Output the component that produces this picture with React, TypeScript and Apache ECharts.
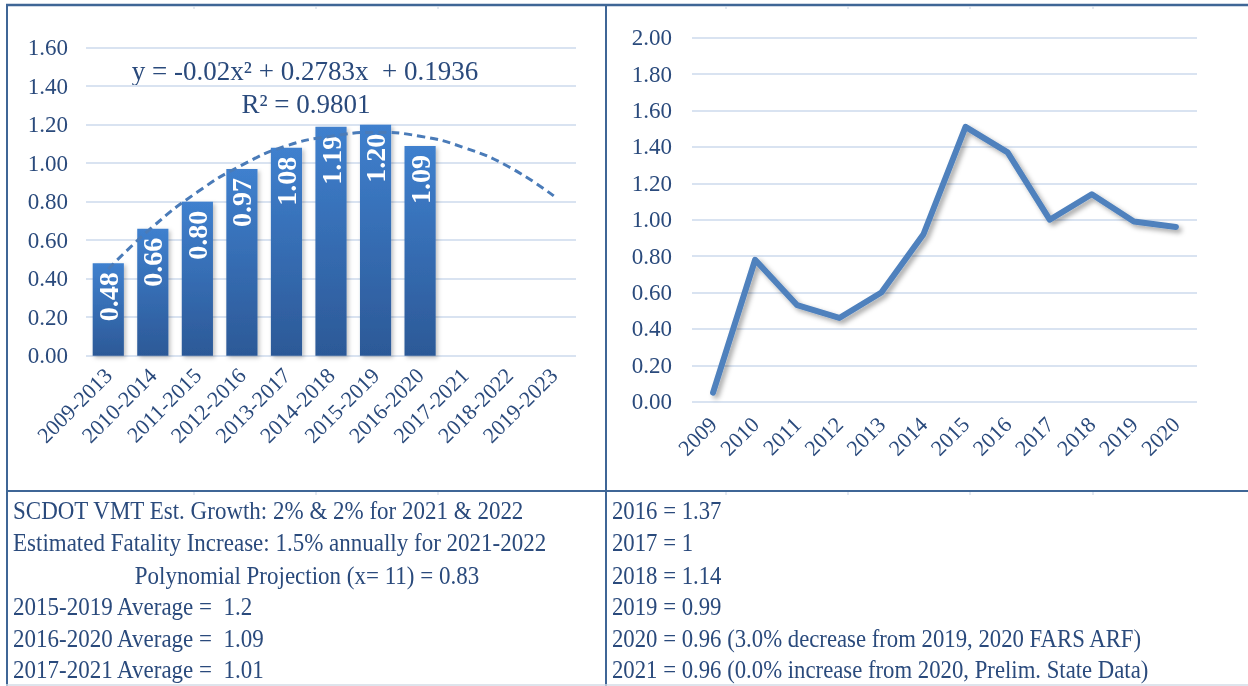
import React, { useEffect, useRef } from "react";
import * as echarts from "echarts";

const periodCategories = [
  "2009-2013", "2010-2014", "2011-2015", "2012-2016", "2013-2017", "2014-2018",
  "2015-2019", "2016-2020", "2017-2021", "2018-2022", "2019-2023",
];
const periodValues: (number | null)[] = [0.48, 0.66, 0.8, 0.97, 1.08, 1.19, 1.2, 1.09, null, null, null];
// dashed polynomial trendline
const trendValues = [0.45, 0.67, 0.85, 0.99, 1.09, 1.14, 1.16, 1.14, 1.08, 0.98, 0.83];

const yearCategories = ["2009", "2010", "2011", "2012", "2013", "2014", "2015", "2016", "2017", "2018", "2019", "2020"];
const yearValues = [0.05, 0.78, 0.53, 0.46, 0.6, 0.92, 1.51, 1.37, 1.0, 1.14, 0.99, 0.96];

const equationText = "y = -0.02x² + 0.2783x  + 0.1936";
const rSquaredText = "R² = 0.9801";

const leftNotes = [
  "SCDOT VMT Est. Growth: 2% & 2% for 2021 & 2022",
  "Estimated Fatality Increase: 1.5% annually for 2021-2022",
  "Polynomial Projection (x= 11) = 0.83",
  "2015-2019 Average =  1.2",
  "2016-2020 Average =  1.09",
  "2017-2021 Average =  1.01",
];
const rightNotes = [
  "2016 = 1.37",
  "2017 = 1",
  "2018 = 1.14",
  "2019 = 0.99",
  "2020 = 0.96 (3.0% decrease from 2019, 2020 FARS ARF)",
  "2021 = 0.96 (0.0% increase from 2020, Prelim. State Data)",
];

const FONT = "'Liberation Serif', 'Times New Roman', serif";
const TEXT = "#2a4a7c";
const FRAME = "#3f6696";
const GRID = "#d9e3f1";

export default function App() {
  const ref = useRef<HTMLDivElement>(null);
  useEffect(() => {
    if (!ref.current) return;
    const chart = echarts.init(ref.current, null, { renderer: "svg" });
    const rowY = [511, 543, 576, 607, 639, 670];
    const graphics: any[] = [
      { type: "rect", shape: { x: 0, y: 0, width: 1248, height: 686 }, style: { fill: "#fff" }, z: -10, silent: true },
      { type: "line", shape: { x1: 6, y1: 5, x2: 1248, y2: 5 }, style: { stroke: FRAME, lineWidth: 2.5 } },
      { type: "line", shape: { x1: 7, y1: 5, x2: 7, y2: 686 }, style: { stroke: FRAME, lineWidth: 2 } },
      { type: "line", shape: { x1: 606, y1: 5, x2: 606, y2: 686 }, style: { stroke: FRAME, lineWidth: 2 } },
      { type: "line", shape: { x1: 6, y1: 491, x2: 1248, y2: 491 }, style: { stroke: FRAME, lineWidth: 2 } },
      { type: "line", shape: { x1: 6, y1: 685, x2: 1248, y2: 685 }, style: { stroke: "#d3dbe6", lineWidth: 1.5 } },
      {
        type: "text", x: 305, y: 71,
        style: { text: equationText, font: `27px ${FONT}`, fill: TEXT, align: "center", verticalAlign: "middle" },
      },
      {
        type: "text", x: 306, y: 104,
        style: { text: rSquaredText, font: `27px ${FONT}`, fill: TEXT, align: "center", verticalAlign: "middle" },
      },
    ];
    // faint spreadsheet cell-border remnants under the frame lines
    [194, 316, 438, 726, 848, 970, 1093].forEach((x) => {
      [6, 492].forEach((y) => {
        graphics.push({ type: "line", shape: { x1: x, y1: y, x2: x, y2: y + 3 }, style: { stroke: "#c9d4e4", lineWidth: 1 } });
      });
    });
    leftNotes.forEach((t, i) => {
      const centered = i === 2;
      graphics.push({
        type: "text", x: centered ? 307 : 13, y: rowY[i], scaleX: 0.92,
        style: { text: t, font: `25px ${FONT}`, fill: TEXT, align: centered ? "center" : "left", verticalAlign: "middle" },
      });
    });
    rightNotes.forEach((t, i) => {
      graphics.push({
        type: "text", x: 612, y: rowY[i], scaleX: 0.91,
        style: { text: t, font: `25px ${FONT}`, fill: TEXT, align: "left", verticalAlign: "middle" },
      });
    });

    const axisLabelBase = { color: TEXT, fontFamily: FONT };
    chart.setOption({
      animation: false,
      grid: [
        { left: 86, width: 490, top: 47.7, height: 308 },
        { left: 692, width: 505, top: 37.7, height: 364 },
      ],
      xAxis: [
        {
          type: "category", gridIndex: 0, data: periodCategories,
          axisLine: { show: false }, axisTick: { show: false },
          axisLabel: { ...axisLabelBase, fontSize: 22, rotate: 45, interval: 0, margin: 16 },
        },
        {
          type: "category", gridIndex: 1, data: yearCategories, boundaryGap: true,
          axisLine: { show: false }, axisTick: { show: false },
          axisLabel: { ...axisLabelBase, fontSize: 22, rotate: 45, interval: 0, margin: 19 },
        },
      ],
      yAxis: [
        {
          type: "value", gridIndex: 0, min: 0, max: 1.6, interval: 0.2,
          axisLine: { show: false }, axisTick: { show: false },
          splitLine: { lineStyle: { color: GRID, width: 2 } },
          axisLabel: { ...axisLabelBase, fontSize: 23, margin: 18, formatter: (v: number) => v.toFixed(2) },
        },
        {
          type: "value", gridIndex: 1, min: 0, max: 2, interval: 0.2,
          axisLine: { show: false }, axisTick: { show: false },
          splitLine: { lineStyle: { color: GRID, width: 2 } },
          axisLabel: { ...axisLabelBase, fontSize: 23, margin: 20, formatter: (v: number) => v.toFixed(2) },
        },
      ],
      series: [
        {
          type: "bar", xAxisIndex: 0, yAxisIndex: 0, data: periodValues, barCategoryGap: "30%",
          itemStyle: {
            color: new echarts.graphic.LinearGradient(0, 0, 0, 1, [
              { offset: 0, color: "#3f80ce" },
              { offset: 1, color: "#2c5997" },
            ]),
            shadowColor: "rgba(0,0,0,0.25)", shadowBlur: 4, shadowOffsetX: 2, shadowOffsetY: 2,
          },
          label: {
            show: true, position: "insideTop", distance: 9, rotate: 90, align: "right", verticalAlign: "middle",
            color: "#fff", fontFamily: FONT, fontWeight: "bold", fontSize: 28,
            formatter: (p: any) => (p.value == null ? "" : Number(p.value).toFixed(2)),
          },
          z: 2,
        },
        {
          type: "line", xAxisIndex: 0, yAxisIndex: 0, data: trendValues, smooth: true, symbol: "none",
          lineStyle: { color: "#4a7bb8", width: 3, type: [8, 5] }, z: 3,
        },
        {
          type: "line", xAxisIndex: 1, yAxisIndex: 1, data: yearValues, symbol: "none",
          lineStyle: {
            color: "#4f81bd", width: 6, cap: "round", join: "round",
            shadowColor: "rgba(0,0,0,0.35)", shadowBlur: 5, shadowOffsetX: 3, shadowOffsetY: 3,
          },
        },
      ],
      graphic: graphics,
    });
    return () => chart.dispose();
  }, []);
  return <div ref={ref} style={{ position: "fixed", left: 0, top: 0, width: 1248, height: 686 }} />;
}
